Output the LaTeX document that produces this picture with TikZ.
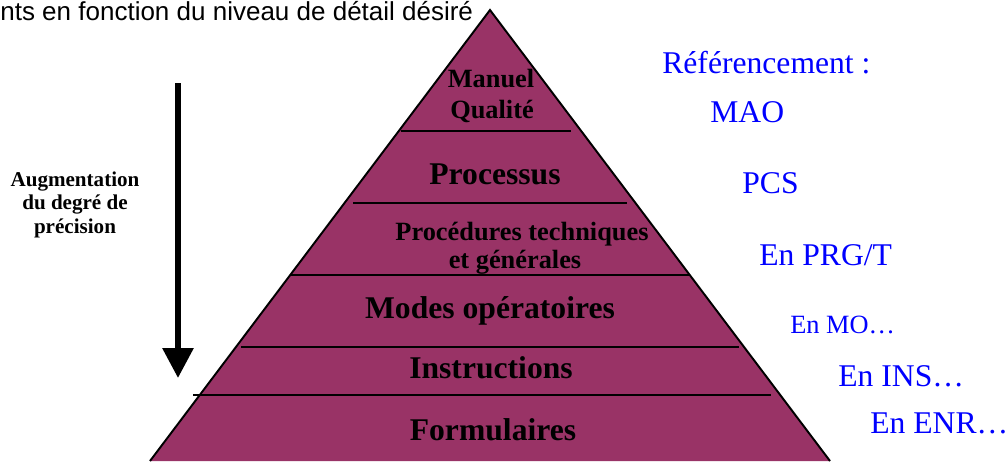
\documentclass[tikz,border=0pt]{standalone}
\usepackage{fontspec}
\setmainfont{Liberation Serif}
\newfontfamily\toptext{Liberation Sans}
\usetikzlibrary{arrows.meta}
\definecolor{pyrfill}{HTML}{993366}
\definecolor{refblue}{RGB}{0,0,255}
\tikzset{
	layer/.style = {anchor=base, inner sep=0pt, font=\bfseries\fontsize{18}{20}\selectfont},
	smalllayer/.style = {layer, font=\bfseries\fontsize{15}{17}\selectfont},
	refer/.style = {anchor=base west, inner sep=0pt, text=refblue, font=\fontsize{18}{20}\selectfont},
	divider/.style = {line width=1.2pt},
}
\begin{document}
\begin{tikzpicture}[x=0.02cm, y=-0.02cm]
			\path[use as bounding box] (0,0) rectangle (1007,461);
			% titre coupe
			\node[anchor=base west, inner sep=0pt, font=\toptext\fontsize{14.8}{17}\selectfont] (titre) at (0,20.5) {nts en fonction du niveau de d\'etail d\'esir\'e};
			% pyramide
			\coordinate (sommet) at (490,10);
			\coordinate (basegauche) at (150,461);
			\coordinate (basedroite) at (830,461);
			\draw[fill=pyrfill, line width=1.1pt] (basegauche) -- (sommet) -- (basedroite);
			\draw[divider] (401,131) -- (571,131);
			\draw[divider] (353,203) -- (627,203);
			\draw[divider] (291,275) -- (689,275);
			\draw[divider] (241,347) -- (739,347);
			\draw[divider] (193,395) -- (771,395);
			% niveaux
			\node[smalllayer] (manuel) at (491,87) {Manuel};
			\node[smalllayer] (qualite) at (492,118) {Qualit\'e};
			\node[layer] (processus) at (495,184) {Processus};
			\node[smalllayer] (procedures) at (522,240) {Proc\'edures techniques};
			\node[smalllayer] (generales) at (515,268) {et g\'en\'erales};
			\node[layer] (modes) at (490,318) {Modes op\'eratoires};
			\node[layer] (instructions) at (491,378) {Instructions};
			\node[layer] (formulaires) at (493,440) {Formulaires};
			% references
			\node[refer] (referencement) at (662,73) {R\'ef\'erencement :};
			\node[refer] (mao) at (710,122) {MAO};
			\node[refer] (pcs) at (742,193) {PCS};
			\node[refer] (prg) at (759,265) {En PRG/T};
			\node[refer, font=\fontsize{15}{17}\selectfont] (mo) at (790,333) {En MO\ldots};
			\node[refer] (ins) at (838,386) {En INS\ldots};
			\node[refer] (enr) at (870,433) {En ENR\ldots};
			% fleche precision
			\coordinate (flechehaut) at (178,83);
			\coordinate (flechebas) at (178,378);
			\draw[line width=0.12cm, -{Triangle[width=0.6cm, length=0.6cm]}] (flechehaut) -- (flechebas);
			\node[anchor=base, inner sep=0pt, font=\bfseries\fontsize{12}{14}\selectfont] (augm) at (75,186) {Augmentation};
			\node[anchor=base, inner sep=0pt, font=\bfseries\fontsize{12}{14}\selectfont] (degre) at (75,209) {du degr\'e de};
			\node[anchor=base, inner sep=0pt, font=\bfseries\fontsize{12}{14}\selectfont] (precision) at (75,233) {pr\'ecision};
		\end{tikzpicture}
\end{document}
